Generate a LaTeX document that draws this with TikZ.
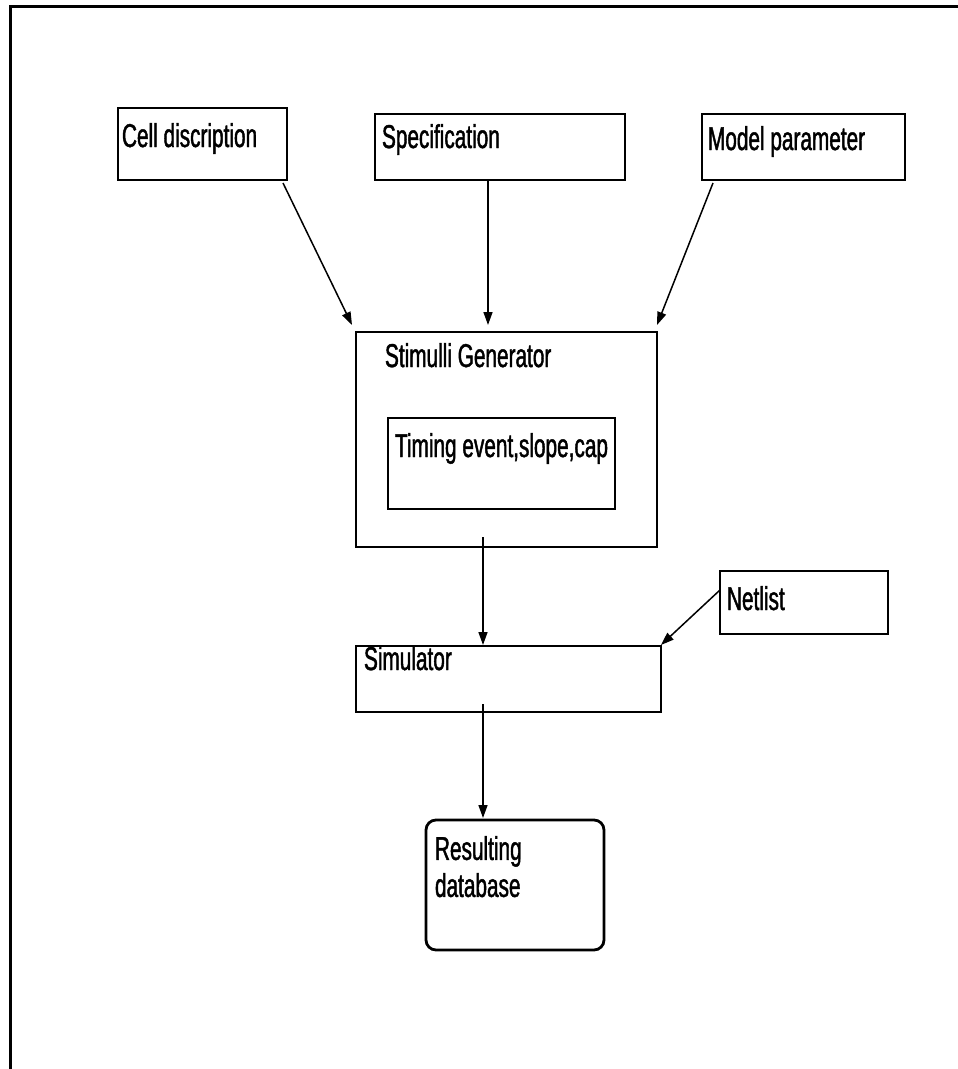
\documentclass[tikz,border=0pt]{standalone}
\usepackage{fontspec}
\setmainfont[FakeStretch=0.63,FakeBold=1.3]{Liberation Sans}
\usetikzlibrary{arrows.meta,calc}
\begin{document}
\begin{tikzpicture}[x=1pt,y=-1pt,
  box/.style={draw, line width=2.8pt, inner sep=0pt, outer sep=0pt, anchor=north west},
  txt/.style={inner sep=0pt, outer sep=0pt, font=\fontsize{33}{37}\selectfont},
  arr/.style={line width=1.5pt, -{Triangle[length=13pt,width=9pt]}}]
\useasboundingbox (0,0) rectangle (958,1069);
% outer frame
\draw[line width=3pt] (10,1069) -- (10,6) -- (958,6);
% boxes
\node[box, minimum width=169pt, minimum height=72pt] (cell) at (118,108) {};
\node[box, minimum width=250pt, minimum height=66pt] (spec) at (375,114) {};
\node[box, minimum width=203pt, minimum height=66pt] (model) at (702,114) {};
\node[box, minimum width=301pt, minimum height=215pt] (stim) at (356,332) {};
\node[box, minimum width=227pt, minimum height=91pt] (timing) at (388,418) {};
\node[box, minimum width=168pt, minimum height=63pt] (netlist) at (720,571) {};
\node[box, minimum width=305pt, minimum height=66pt] (sim) at (356,646) {};
\node[box, rounded corners=10pt, minimum width=178pt, minimum height=130pt] (res) at (426,820) {};
% texts
\node[txt, anchor=base west] (celltxt) at (122,147) {Cell discription};
\node[txt, anchor=base west] (spectxt) at (382,148) {Specification};
\node[txt, anchor=base west] (modeltxt) at (708,150) {Model parameter};
\node[txt, anchor=base west] (stimtxt) at (385,367) {Stimulli Generator};
\node[txt, anchor=base west] (timingtxt) at (395,457) {Timing event,slope,cap};
\node[txt, anchor=base west] (nettxt) at (727,610) {Netlist};
\node[txt, anchor=base west] (simtxt) at (364,670) {Simulator};
\node[txt, anchor=north west, align=left] (restxt) at (435,836) {Resulting\\database};
% connectors
\draw[arr] ($(cell.south east)+(-4,3)$) -- ($(stim.north west)+(-4,-7)$);
\draw[arr] ($(spec.south west)+(113,0)$) -- ($(stim.north west)+(132,-7)$);
\draw[arr] ($(model.south west)+(11,3)$) -- ($(stim.north east)+(0,-7)$);
\draw[arr] ($(stim.south west)+(127,-10)$) -- ($(sim.north west)+(127,-1)$);
\draw[arr] ($(netlist.north west)+(0,19)$) -- ($(sim.north east)+(0,-1)$);
\draw[arr] ($(sim.south west)+(127,-8)$) -- ($(res.north west)+(57,-2)$);
\end{tikzpicture}
\end{document}
